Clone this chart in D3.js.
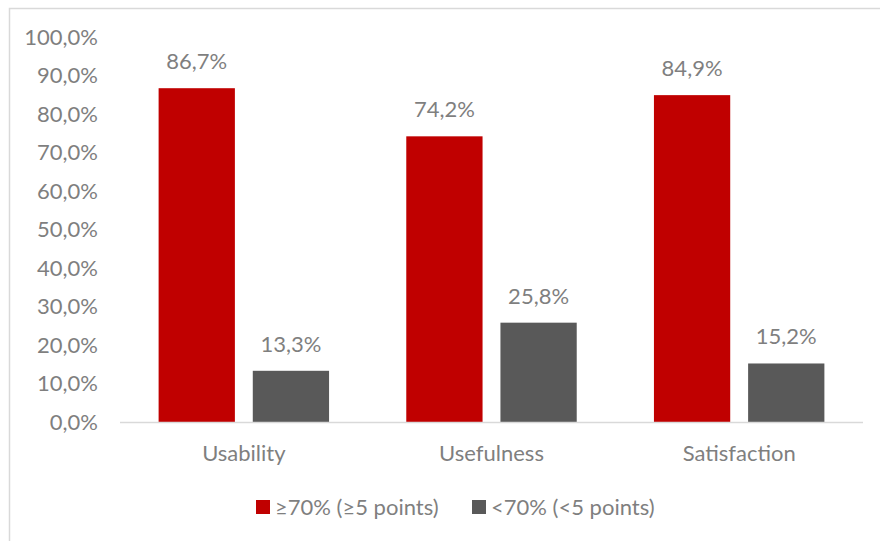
<!DOCTYPE html>
<html>
<head>
<meta charset="UTF-8">
<script src="https://cdn.jsdelivr.net/npm/d3@7"></script>
<style>
  body { margin: 0; background: #fff; }
  text { font-family: Lato, "Open Sans", sans-serif; fill: #7f7f7f; }
</style>
</head>
<body>
<div id="chart"></div>
<script>
const categories = ["Usability", "Usefulness", "Satisfaction"];
const seriesNames = ["\u226570% (\u22655 points)", "<70% (<5 points)"];
const high = [86.7, 74.2, 84.9];
const low = [13.3, 25.8, 15.2];
const yTicks = [0, 10, 20, 30, 40, 50, 60, 70, 80, 90, 100];
const colors = ["#c00000", "#595959"];

const width = 880, height = 541;
const plot = {left: 120, right: 863, top: 37, bottom: 422};
const fmt = v => v.toFixed(1).replace(".", ",") + "%";
const fs = "22px";

const svg = d3.select("#chart").append("svg")
  .attr("width", width).attr("height", height);

// chart area border
svg.append("rect")
  .attr("x", 9.5).attr("y", 8.5)
  .attr("width", 900).attr("height", 600)
  .attr("fill", "none").attr("stroke", "#d9d9d9").attr("stroke-width", 1.5);

const x = d3.scaleBand().domain(categories).range([plot.left, plot.right]);
const inner = d3.scaleBand().domain([0, 1]).range([0, x.bandwidth()])
  .paddingInner(0.19).paddingOuter(0.41);
const y = d3.scaleLinear().domain([0, 100]).range([plot.bottom, plot.top]);

// y axis labels
const yAxis = svg.append("g")
  .attr("transform", "translate(" + 98 + ",0)")
  .call(d3.axisLeft(y).tickValues(yTicks).tickSize(0).tickPadding(0).tickFormat(fmt));
yAxis.select(".domain").remove();
yAxis.selectAll("text").style("font-size", fs).attr("fill", "#7f7f7f");

const rows = categories.map((c, i) => ({cat: c, vals: [high[i], low[i]]}));

const groups = svg.append("g").selectAll("g")
  .data(rows).enter().append("g")
  .attr("transform", d => "translate(" + x(d.cat) + ",0)");

groups.selectAll("rect")
  .data(d => d.vals.map((v, k) => ({v, k})))
  .enter().append("rect")
  .attr("x", d => inner(d.k))
  .attr("width", inner.bandwidth())
  .attr("y", d => y(d.v))
  .attr("height", d => y(0) - y(d.v))
  .attr("fill", d => colors[d.k]);

groups.selectAll("text.lbl")
  .data(d => d.vals.map((v, k) => ({v, k})))
  .enter().append("text")
  .attr("class", "lbl")
  .attr("x", d => inner(d.k) + inner.bandwidth() / 2)
  .attr("y", d => y(d.v) - 19)
  .attr("text-anchor", "middle")
  .style("font-size", fs)
  .text(d => fmt(d.v));

// x axis line
svg.append("line")
  .attr("x1", plot.left).attr("x2", plot.right)
  .attr("y1", plot.bottom + 0.5).attr("y2", plot.bottom + 0.5)
  .attr("stroke", "#d9d9d9").attr("stroke-width", 1.5);

const xAxis = svg.append("g")
  .attr("transform", "translate(0," + plot.bottom + ")")
  .call(d3.axisBottom(x).tickSize(0).tickPadding(23));
xAxis.select(".domain").remove();
xAxis.selectAll("text").style("font-size", fs).attr("fill", "#7f7f7f");

// legend
const legendX = [256, 472];
const legend = svg.append("g").selectAll("g")
  .data(seriesNames).enter().append("g")
  .attr("transform", (d, i) => "translate(" + legendX[i] + ",500)");
legend.append("rect").attr("width", 14).attr("height", 14).attr("fill", (d, i) => colors[i]);
legend.append("text").attr("x", 19).attr("y", 7).attr("dy", "0.35em")
  .style("font-size", fs).text(d => d);
</script>
</body>
</html>
